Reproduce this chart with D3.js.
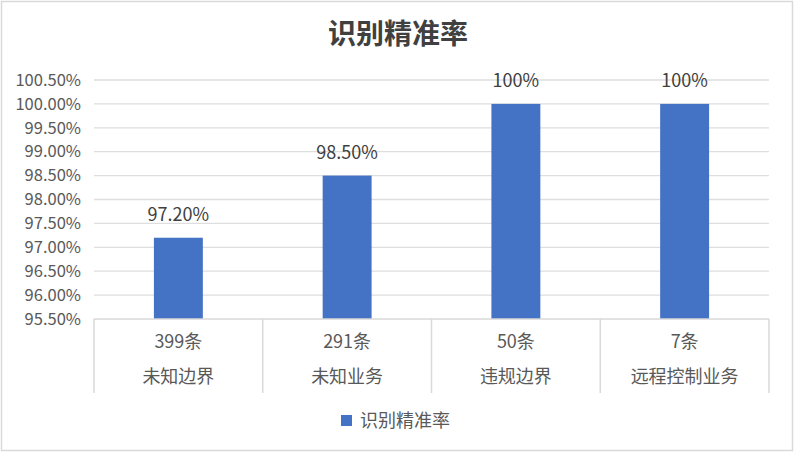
<!DOCTYPE html>
<html lang="zh">
<head>
  <meta charset="UTF-8">
  <title>识别精准率</title>
  <script src="https://d3js.org/d3.v7.min.js"></script>
  <style>
    body { margin: 0; background: #fff; }
    text { font-family: "Noto Sans CJK SC", "Noto Sans", sans-serif; }
  </style>
</head>
<body>
<div id="chart"></div>
<script>
// chart values
const counts = ["399条", "291条", "50条", "7条"];
const categories = ["未知边界", "未知业务", "违规边界", "远程控制业务"];
const values = [97.2, 98.5, 100, 100];
const valueLabels = ["97.20%", "98.50%", "100%", "100%"];
const yTicks = [95.5, 96, 96.5, 97, 97.5, 98, 98.5, 99, 99.5, 100, 100.5];
const seriesName = "识别精准率";

const W = 794, H = 452;
const plotLeft = 94, plotRight = 769, plotTop = 80, plotBottom = 319;

const svg = d3.select("#chart").append("svg")
  .attr("width", W)
  .attr("height", H);

// outer border
svg.append("rect")
  .attr("x", 1.5).attr("y", 1.5)
  .attr("width", W - 3).attr("height", H - 3)
  .attr("fill", "#fff")
  .attr("stroke", "#d9d9d9")
  .attr("stroke-width", 1.5);

var x = d3.scaleBand()
  .domain(categories)
  .range([plotLeft, plotRight])
  .paddingInner(0)
  .paddingOuter(0);

var y = d3.scaleLinear()
  .domain([95.5, 100.5])
  .range([plotBottom, plotTop]);

// gridlines
svg.append("g")
  .selectAll("line")
  .data(yTicks.slice(1))
  .enter()
  .append("line")
  .attr("x1", plotLeft).attr("x2", plotRight)
  .attr("y1", d => y(d)).attr("y2", d => y(d))
  .attr("stroke", "#dedede")
  .attr("stroke-width", 1.3);

// y axis labels
const yAxis = d3.axisLeft(y)
  .tickValues(yTicks)
  .tickFormat(d => d.toFixed(2) + "%")
  .tickSize(0)
  .tickPadding(13);

const yg = svg.append("g")
  .attr("transform", `translate(${plotLeft},0)`)
  .call(yAxis);
yg.select(".domain").remove();
yg.selectAll("text")
  .attr("fill", "#595959")
  .style("font-size", "16.5px");

// bars
const barW = x.bandwidth() * 0.29;
svg.selectAll(".bar")
  .data(values)
  .enter()
  .append("rect")
  .attr("class", "bar")
  .attr("x", (d, i) => x(categories[i]) + (x.bandwidth() - barW) / 2)
  .attr("y", d => y(d))
  .attr("width", barW)
  .attr("height", d => y(95.5) - y(d))
  .attr("fill", "#4472c4");

// value labels
svg.selectAll(".value-label")
  .data(values)
  .enter()
  .append("text")
  .attr("class", "value-label")
  .attr("x", (d, i) => x(categories[i]) + x.bandwidth() / 2)
  .attr("y", d => y(d) - 17)
  .attr("text-anchor", "middle")
  .attr("fill", "#404040")
  .style("font-size", "18px")
  .text((d, i) => valueLabels[i]);

// multi-level category axis
const xg = svg.append("g");
xg.append("line")
  .attr("x1", plotLeft).attr("x2", plotRight)
  .attr("y1", plotBottom).attr("y2", plotBottom)
  .attr("stroke", "#d9d9d9")
  .attr("stroke-width", 1.5);

const seps = categories.map(c => x(c)).concat([plotRight]);
xg.selectAll(".sep")
  .data(seps)
  .enter()
  .append("line")
  .attr("class", "sep")
  .attr("x1", d => d).attr("x2", d => d)
  .attr("y1", plotBottom).attr("y2", 393)
  .attr("stroke", "#d9d9d9")
  .attr("stroke-width", 1.5);

xg.selectAll(".count")
  .data(counts)
  .enter()
  .append("text")
  .attr("class", "count")
  .attr("x", (d, i) => x(categories[i]) + x.bandwidth() / 2)
  .attr("y", 348)
  .attr("text-anchor", "middle")
  .attr("fill", "#595959")
  .style("font-size", "18px")
  .text(d => d);

xg.selectAll(".cat")
  .data(categories)
  .enter()
  .append("text")
  .attr("class", "cat")
  .attr("x", d => x(d) + x.bandwidth() / 2)
  .attr("y", 383)
  .attr("text-anchor", "middle")
  .attr("fill", "#595959")
  .style("font-size", "18px")
  .text(d => d);

// title
svg.append("text")
  .attr("x", W / 2 + 1)
  .attr("y", 44)
  .attr("text-anchor", "middle")
  .attr("fill", "#404040")
  .style("font-size", "28px")
  .style("font-weight", "bold")
  .text(seriesName);

// legend
svg.append("rect")
  .attr("x", 341).attr("y", 415)
  .attr("width", 11).attr("height", 11)
  .attr("fill", "#4472c4");
svg.append("text")
  .attr("x", 360)
  .attr("y", 427)
  .attr("fill", "#595959")
  .style("font-size", "18px")
  .text(seriesName);
</script>
</body>
</html>
